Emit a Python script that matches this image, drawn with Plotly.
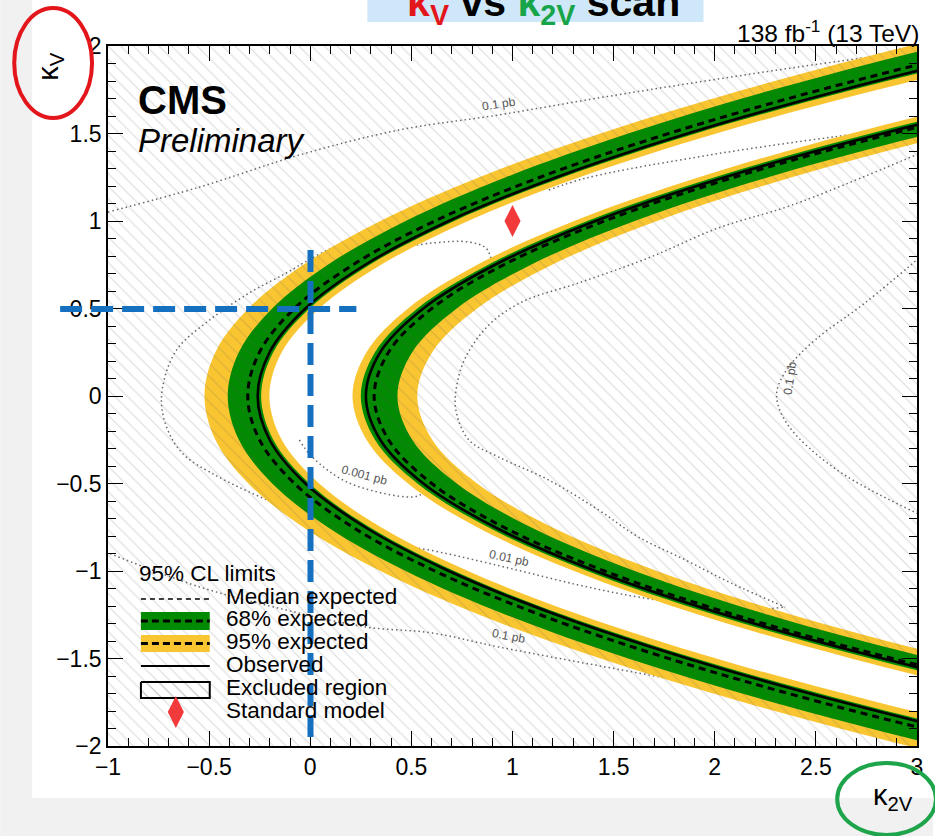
import plotly.graph_objects as go

# ---------------------------------------------------------------- data ----
# kappa_V sampling of the 95% CL limit contours
KV = [-2.25, -2.0, -1.75, -1.5, -1.25, -1.0, -0.75, -0.5, -0.25, 0.0,
      0.25, 0.5, 0.75, 1.0, 1.25, 1.5, 1.75, 2.0, 2.25]

# outer (left-opening) contour: kappa_2V at each kappa_V
OUT_Y_LO = [3.881, 2.957, 2.141, 1.435, 0.836, 0.347, -0.034, -0.306, -0.469, -0.523,
            -0.469, -0.306, -0.034, 0.347, 0.836, 1.435, 2.141, 2.957, 3.881]
OUT_G_LO = [4.047, 3.112, 2.287, 1.572, 0.967, 0.472, 0.087, -0.188, -0.353, -0.408,
            -0.353, -0.188, 0.087, 0.472, 0.967, 1.572, 2.287, 3.112, 4.047]
OUT_EXP = [4.374, 3.391, 2.524, 1.772, 1.136, 0.616, 0.211, -0.078, -0.251, -0.309,
           -0.251, -0.078, 0.211, 0.616, 1.136, 1.772, 2.524, 3.391, 4.374]
OUT_OBS = [4.524, 3.520, 2.634, 1.866, 1.217, 0.685, 0.272, -0.024, -0.201, -0.260,
           -0.201, -0.024, 0.272, 0.685, 1.217, 1.866, 2.634, 3.520, 4.524]
OUT_G_HI = [4.592, 3.577, 2.682, 1.906, 1.249, 0.712, 0.294, -0.004, -0.183, -0.243,
            -0.183, -0.004, 0.294, 0.712, 1.249, 1.906, 2.682, 3.577, 4.592]
OUT_Y_HI = [4.769, 3.726, 2.805, 2.008, 1.332, 0.780, 0.350, 0.044, -0.141, -0.202,
            -0.141, 0.044, 0.350, 0.780, 1.332, 2.008, 2.805, 3.726, 4.769]

# inner (right-opening) contour
IN_Y_LO = [5.758, 4.593, 3.566, 2.675, 1.922, 1.305, 0.826, 0.483, 0.278, 0.209,
           0.278, 0.483, 0.826, 1.305, 1.922, 2.675, 3.566, 4.593, 5.758]
IN_G_LO = [5.920, 4.730, 3.680, 2.770, 2.000, 1.370, 0.880, 0.530, 0.320, 0.250,
           0.320, 0.530, 0.880, 1.370, 2.000, 2.770, 3.680, 4.730, 5.920]
IN_OBS = [6.026, 4.819, 3.754, 2.831, 2.050, 1.411, 0.914, 0.559, 0.346, 0.275,
          0.346, 0.559, 0.914, 1.411, 2.050, 2.831, 3.754, 4.819, 6.026]
IN_EXP = [6.082, 4.872, 3.804, 2.879, 2.096, 1.455, 0.957, 0.601, 0.387, 0.316,
          0.387, 0.601, 0.957, 1.455, 2.096, 2.879, 3.804, 4.872, 6.082]
IN_G_HI = [6.369, 5.123, 4.023, 3.070, 2.264, 1.604, 1.091, 0.724, 0.504, 0.431,
           0.504, 0.724, 1.091, 1.604, 2.264, 3.070, 4.023, 5.123, 6.369]
IN_Y_HI = [6.528, 5.269, 4.158, 3.195, 2.381, 1.714, 1.196, 0.825, 0.603, 0.529,
           0.603, 0.825, 1.196, 1.714, 2.381, 3.195, 4.158, 5.269, 6.528]

# theory cross-section iso-lines (k2V, kV)
XS01_UP_X = [-1.001, -0.547, -0.054, 0.439, 0.932, 1.425, 1.919, 2.412, 2.905, 3.028]
XS01_UP_Y = [1.051, 1.194, 1.377, 1.520, 1.606, 1.703, 1.794, 1.880, 1.960, 1.983]
XS01_LO_X = [-1.011, -0.547, -0.118, 0.276, 0.602, 0.932, 1.623, 2.081, 2.412]
XS01_LO_Y = [-0.891, -1.091, -1.223, -1.320, -1.354, -1.434, -1.583, -1.680, -1.749]
XS01_R_X = [3.028, 2.742, 2.496, 2.362, 2.308, 2.313, 2.362, 2.461, 2.658, 3.028]
XS01_R_Y = [0.806, 0.531, 0.320, 0.160, 0.034, -0.051, -0.166, -0.291, -0.463, -0.686]
XS001_L_X = [0.340, 0.010, -0.118, -0.301, -0.498, -0.661, -0.730, -0.730, -0.681, -0.612,
             -0.498, -0.301, 0.094, 0.375, 0.636, 0.981, 1.327, 1.623, 2.081, 2.348]
XS001_L_Y = [0.977, 0.789, 0.703, 0.589, 0.434, 0.263, 0.051, -0.097, -0.251, -0.349,
             -0.434, -0.549, -0.737, -0.834, -0.891, -0.983, -1.080, -1.149, -1.223, -1.206]
XS001_R_X = [3.028, 2.382, 2.017, 1.672, 1.327, 1.046, 0.883, 0.769, 0.725, 0.720,
             0.784, 0.932, 1.179, 1.425, 1.623, 1.855, 2.081, 2.348]
XS001_R_Y = [1.394, 1.091, 0.960, 0.789, 0.646, 0.537, 0.406, 0.223, 0.063, -0.080,
             -0.251, -0.349, -0.480, -0.651, -0.806, -0.937, -1.069, -1.206]
XS0001_UP_X = [0.306, 0.602, 0.784, 0.868, 0.898, 0.932]
XS0001_UP_Y = [0.817, 0.874, 0.880, 0.846, 0.777, 0.691]
XS0001_LO_X = [-0.054, 0.010, 0.192, 0.503, 0.562, 0.636]
XS0001_LO_Y = [-0.251, -0.349, -0.497, -0.577, -0.554, -0.480]
XS0001_MID_X = [1.179, 1.366, 1.973, 2.584, 3.028]
XS0001_MID_Y = [1.177, 1.246, 1.377, 1.480, 1.543]

SM_K2V, SM_KV = [1.0], [1.0]

# ------------------------------------------------------------- styling ----
W, H = 935, 836
L, R, T, B = 108, 919, 46, 746          # frame edges in page pixels
FONT = "Liberation Sans, Arial, Helvetica, sans-serif"
YELLOW = "#f9c531"
GREEN = "#028a02"
HATCH = dict(shape="\\", size=9, solidity=0.13, fgcolor="rgba(90,90,90,0.42)",
             bgcolor="rgba(0,0,0,0)", fillmode="overlay")


def pxx(x):
    return (x - L) / (R - L)


def pxy(y):
    return (B - y) / (B - T)


fig = go.Figure()


def iso_line(xs, ys):
    fig.add_trace(go.Scatter(x=xs, y=ys, mode="lines", hoverinfo="skip", showlegend=False,
                             line=dict(color="#666666", width=1.5, dash="1.5px,3px",
                                       shape="spline")))


def band(lo, hi, color):
    fig.add_trace(go.Scatter(x=lo + hi[::-1], y=KV + KV[::-1], mode="lines", fill="toself",
                             fillcolor=color, line=dict(width=0, shape="spline"),
                             hoverinfo="skip", showlegend=False))


def hatch(xs, ys):
    fig.add_trace(go.Scatter(x=xs, y=ys, mode="lines", fill="toself",
                             fillcolor="rgba(0,0,0,0)", fillpattern=HATCH,
                             line=dict(width=0, shape="spline"),
                             hoverinfo="skip", showlegend=False))


for xs, ys in [(XS01_UP_X, XS01_UP_Y), (XS01_LO_X, XS01_LO_Y), (XS01_R_X, XS01_R_Y),
               (XS001_L_X, XS001_L_Y), (XS001_R_X, XS001_R_Y),
               (XS0001_UP_X, XS0001_UP_Y), (XS0001_LO_X, XS0001_LO_Y),
               (XS0001_MID_X, XS0001_MID_Y)]:
    iso_line(xs, ys)

band(OUT_Y_LO, OUT_Y_HI, YELLOW)
band(OUT_G_LO, OUT_G_HI, GREEN)
band(IN_Y_LO, IN_Y_HI, YELLOW)
band(IN_G_LO, IN_G_HI, GREEN)

# excluded regions: outside the observed contours
hatch(OUT_OBS + [OUT_OBS[-1], -1.6, -1.6, OUT_OBS[0]], KV + [3.0, 3.0, -3.0, -3.0])
hatch(IN_OBS + [IN_OBS[-1], 7.5, 7.5, IN_OBS[0]], KV + [3.0, 3.0, -3.0, -3.0])

for xs in (OUT_EXP, IN_EXP):
    fig.add_trace(go.Scatter(x=xs, y=KV, mode="lines", hoverinfo="skip", showlegend=False,
                             line=dict(color="black", width=3, dash="7px,5px", shape="spline")))
for xs in (OUT_OBS, IN_OBS):
    fig.add_trace(go.Scatter(x=xs, y=KV, mode="lines", hoverinfo="skip", showlegend=False,
                             line=dict(color="black", width=2.6, shape="spline")))

fig.add_trace(go.Scatter(x=SM_K2V, y=SM_KV, mode="markers", hoverinfo="skip", showlegend=False,
                         marker=dict(symbol="diamond-tall", size=23, color="#f23a3a",
                                     line=dict(width=0))))

# ------------------------------------------------------------- legend ----
# drawn on a pixel-unit overlay axis pair
lx0, lx1 = 141, 210


def sample_line(y, width, dash):
    fig.add_trace(go.Scatter(x=[lx0, lx1], y=[y, y], xaxis="x2", yaxis="y2", mode="lines",
                             hoverinfo="skip", showlegend=False,
                             line=dict(color="black", width=width, dash=dash)))


def sample_box(y0, y1, color, pattern=None, border=0):
    fig.add_trace(go.Scatter(x=[lx0, lx1, lx1, lx0, lx0], y=[y0, y0, y1, y1, y0],
                             xaxis="x2", yaxis="y2", mode="lines", fill="toself",
                             fillcolor=color, fillpattern=pattern,
                             line=dict(color="black", width=border),
                             hoverinfo="skip", showlegend=False))


sample_line(599, 1.5, "5px,4px")
sample_box(612, 630, GREEN)
sample_line(621, 3, "7px,4px")
sample_box(635, 652, YELLOW)
sample_line(643.5, 3, "7px,4px")
sample_line(666, 2.2, "solid")
sample_box(682, 698, "rgba(0,0,0,0)", HATCH, 2)
fig.add_trace(go.Scatter(x=[176], y=[712], xaxis="x2", yaxis="y2", mode="markers",
                         hoverinfo="skip", showlegend=False,
                         marker=dict(symbol="diamond-tall", size=23, color="#f23a3a")))

ann = []
leg_rows = [("95% CL limits", 137, 573), ("Median expected", 224, 596),
            ("68% expected", 224, 618), ("95% expected", 224, 641),
            ("Observed", 224, 664), ("Excluded region", 224, 687),
            ("Standard model", 224, 710)]
for txt, x, y in leg_rows:
    ann.append(dict(text=txt, x=pxx(x), y=pxy(y), xref="paper", yref="paper",
                    xanchor="left", yanchor="middle", showarrow=False,
                    font=dict(family=FONT, size=22.5, color="black")))

# iso-line labels
for txt, x, y, ang in [("0.1 pb", 0.932, 1.669, -9), ("0.1 pb", 0.981, -1.371, 11),
                       ("0.1 pb", 2.372, 0.103, -82), ("0.01 pb", 0.981, -0.926, 12),
                       ("0.001 pb", 0.266, -0.451, 15)]:
    ann.append(dict(text=txt, x=x, y=y, xref="x", yref="y", showarrow=False, textangle=ang,
                    font=dict(family=FONT, size=12, color="#555555")))

ann += [
    dict(text="<b>CMS</b>", x=pxx(136), y=pxy(100), xref="paper", yref="paper",
         xanchor="left", yanchor="middle", showarrow=False,
         font=dict(family=FONT, size=40, color="black")),
    dict(text="<i>Preliminary</i>", x=pxx(136), y=pxy(141), xref="paper", yref="paper",
         xanchor="left", yanchor="middle", showarrow=False,
         font=dict(family=FONT, size=33, color="black")),
    dict(text="138 fb<sup>-1</sup> (13 TeV)", x=pxx(923), y=pxy(31), xref="paper",
         yref="paper", xanchor="right", yanchor="middle", showarrow=False,
         font=dict(family=FONT, size=24.5, color="black")),
    dict(text="κ<sub>V</sub>", x=pxx(30), y=pxy(50), xref="paper", yref="paper",
         textangle=-90, showarrow=False, font=dict(family=FONT, size=29, color="black")),
    dict(text="κ<sub>2V</sub>", x=pxx(917), y=pxy(817), xref="paper", yref="paper",
         showarrow=False, font=dict(family=FONT, size=29, color="black")),
    dict(text=("<b><span style='color:#e3161b'>κ<sub>V</sub></span> vs "
               "<span style='color:#18a54a'>κ<sub>2V</sub></span> scan</b>"),
         x=pxx(545), y=pxy(-23), xref="paper", yref="paper", showarrow=False,
         font=dict(family=FONT, size=41, color="black")),
]

# ------------------------------------------------------------- shapes ----
shapes = [
    # page backdrop strips
    dict(type="rect", xref="paper", yref="paper", x0=pxx(0), x1=pxx(32), y0=pxy(0),
         y1=pxy(798), fillcolor="#f1f1f1", line=dict(width=0), layer="below"),
    dict(type="rect", xref="paper", yref="paper", x0=pxx(0), x1=pxx(W), y0=pxy(798),
         y1=pxy(H), fillcolor="#f1f1f1", line=dict(width=0), layer="below"),
    # heading box
    dict(type="rect", xref="paper", yref="paper", x0=pxx(368), x1=pxx(705), y0=pxy(-5),
         y1=pxy(22), fillcolor="#cfe8f9", line=dict(width=0), layer="below"),
    # highlight marks
    dict(type="line", xref="paper", yref="paper", x0=pxx(60), x1=pxx(357), y0=pxy(309),
         y1=pxy(309), line=dict(color="#1570c0", width=6, dash="22px,9px")),
    dict(type="line", xref="paper", yref="paper", x0=pxx(311), x1=pxx(311), y0=pxy(250),
         y1=pxy(744), line=dict(color="#1570c0", width=6, dash="22px,9px")),
    dict(type="circle", xref="paper", yref="paper", x0=pxx(14), x1=pxx(92), y0=pxy(8),
         y1=pxy(118), line=dict(color="#e3161b", width=4)),
    dict(type="circle", xref="paper", yref="paper", x0=pxx(839), x1=pxx(938), y0=pxy(763),
         y1=pxy(835), line=dict(color="#1ea54b", width=4)),
]

axis_common = dict(showgrid=False, zeroline=False, showline=True, linecolor="black",
                   linewidth=1.6, mirror="allticks", ticks="inside", ticklen=15,
                   tickwidth=1.4, tickcolor="black",
                   tickfont=dict(family=FONT, size=23, color="black"),
                   minor=dict(ticks="inside", ticklen=8, dtick=0.1, tickwidth=1.2,
                              tickcolor="black", showgrid=False))

fig.update_layout(
    width=W, height=H,
    margin=dict(l=L, r=W - R, t=T, b=H - B, pad=0),
    paper_bgcolor="white", plot_bgcolor="white",
    showlegend=False,
    xaxis=dict(range=[-1, 3], dtick=0.5, tick0=-1, **axis_common),
    yaxis=dict(range=[-2, 2], dtick=0.5, tick0=-2, **axis_common),
    xaxis2=dict(overlaying="x", range=[L, R], visible=False, anchor="y2"),
    yaxis2=dict(overlaying="y", range=[B, T], visible=False, anchor="x2"),
    annotations=ann,
    shapes=shapes,
    font=dict(family=FONT),
)

fig.write_html("out.html")
